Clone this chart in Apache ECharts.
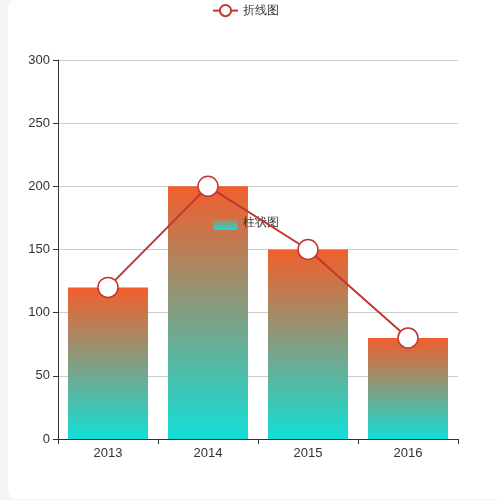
<!DOCTYPE html>
<html><head><meta charset="utf-8">
<script src="https://cdn.jsdelivr.net/npm/echarts@6/dist/echarts.min.js"></script>
<style>
html,body{margin:0;padding:0;background:#f3f3f8;width:500px;height:500px;overflow:hidden;}
#c{position:absolute;left:8px;top:0;width:500px;height:499px;background:#fff;border-radius:8px;}
</style></head>
<body><div id="c"></div>
<script>
var categories = ['2013','2014','2015','2016'];
var barValues = [120, 200, 150, 80];
var lineValues = [120, 200, 150, 80];
var yTicks = {min:0, max:300, interval:50};

var chart = echarts.init(document.getElementById('c'));
chart.setOption({
  animation:false,
  legend:[
    {data:['折线图'], left:199, top:-1, textStyle:{color:'#333',fontSize:12}},
    {data:['柱状图'], left:200, top:211, textStyle:{color:'#333',fontSize:12}}
  ],
  grid:{left:50, right:50, top:60, bottom:60},
  xAxis:{type:'category', data:categories,
    axisLine:{lineStyle:{color:'#333'}}, axisTick:{show:true, lineStyle:{color:'#333'}},
    axisLabel:{color:'#333', fontSize:13, fontFamily:'Liberation Sans, Arial, sans-serif'}},
  yAxis:{type:'value', min:yTicks.min, max:yTicks.max, interval:yTicks.interval,
    axisLine:{show:true, lineStyle:{color:'#333'}}, axisTick:{show:true, lineStyle:{color:'#333'}},
    axisLabel:{color:'#333', fontSize:13, fontFamily:'Liberation Sans, Arial, sans-serif'},
    splitLine:{lineStyle:{color:'#ccc'}}},
  series:[
    {name:'柱状图', type:'bar', data:barValues, barWidth:'80%',
      itemStyle:{color:new echarts.graphic.LinearGradient(0,0,0,1,[
        {offset:0,color:'#f25e2c'},{offset:1,color:'#12dfd7'}])}},
    {name:'折线图', type:'line', data:lineValues, symbol:'circle', symbolSize:20,
      z:5,
      lineStyle:{color:'#c23531', width:2},
      itemStyle:{color:'#fff', borderColor:'#c23531', borderWidth:1.5}}
  ]
});
</script></body></html>
